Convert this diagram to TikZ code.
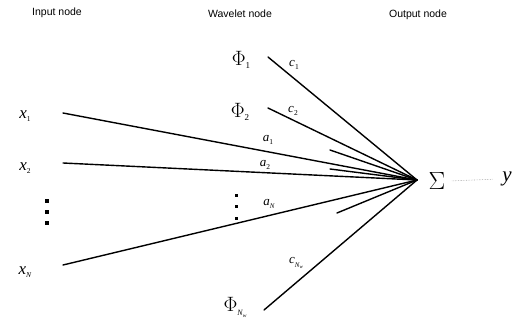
\documentclass[tikz,border=0pt]{standalone}
\usepackage{fontspec}
\setmainfont{Liberation Serif}
\newfontfamily\hdrfont{Liberation Sans}
\newcommand{\vlab}[3]{{\fontsize{#3}{#3}\selectfont\itshape #1}\raisebox{-0.35em}{\fontsize{7.5}{7.5}\selectfont #2}}
\begin{document}
\begin{tikzpicture}[x={(1pt,0)},y={(0,-1pt)},
  hdr/.style={font=\hdrfont\fontsize{10.5}{10.5}\selectfont},
  conn/.style={line width=1.4pt,line cap=round},
  faint/.style={densely dotted,gray!70,line width=0.6pt},
  dotmark/.style={fill=black,minimum size=3.2pt,inner sep=0pt,rectangle}]
\useasboundingbox (0,0) rectangle (522,321);
% headers
\node[hdr] (hin) at (57,13) {Input node};
\node[hdr] (hwav) at (240,14) {Wavelet node};
\node[hdr] (hout) at (418,15) {Output node};
% input labels
\node (x1) at (25,116) {\vlab{x}{1}{17}};
\node (x2) at (25,168) {\vlab{x}{2}{17}};
\node (xN) at (25,272) {\vlab{x}{\textit{N}}{17}};
\node[dotmark] (d1) at (47,201) {};
\node[dotmark] (d2) at (47,212) {};
\node[dotmark] (d3) at (47,223) {};
% wavelet labels
\node (p1) at (241,60) {{\fontsize{20}{20}\selectfont $\Phi$}\raisebox{-0.35em}{\fontsize{9}{9}\selectfont 1}};
\node (p2) at (240,112) {{\fontsize{20}{20}\selectfont $\Phi$}\raisebox{-0.35em}{\fontsize{9}{9}\selectfont 2}};
\node (pN) at (235,307) {{\fontsize{20}{20}\selectfont $\Phi$}\raisebox{-0.45em}{\fontsize{8}{8}\selectfont\itshape N\raisebox{-0.2em}{\fontsize{5.5}{5.5}\selectfont w}}};
\node[dotmark,minimum size=3pt] (e1) at (236,195) {};
\node[dotmark,minimum size=3pt] (e2) at (236,206) {};
\node[dotmark,minimum size=3pt] (e3) at (236,218) {};
% weight labels
\node (c1) at (294,65) {\vlab{c}{1}{13}};
\node (c2) at (293,111) {\vlab{c}{2}{13}};
\node (cN) at (296,263) {{\fontsize{13}{13}\selectfont\itshape c}\raisebox{-0.35em}{\fontsize{7}{7}\selectfont\itshape N\raisebox{-0.2em}{\fontsize{5}{5}\selectfont w}}};
\node (a1) at (268,140) {\vlab{a}{1}{13}};
\node (a2) at (265,165) {\vlab{a}{2}{13}};
\node (aN) at (269,204) {{\fontsize{13}{13}\selectfont\itshape a}\raisebox{-0.35em}{\fontsize{7}{7}\selectfont\itshape N}};
% output
\node (sum) at (437,181) {\fontsize{31}{31}\selectfont $\Sigma$};
\node (y) at (507,179) {\fontsize{21}{21}\selectfont\itshape y};
% connector start points
\coordinate (hub) at (417,180);
\coordinate (sx1) at (63,113);
\coordinate (sx2) at (63,163);
\coordinate (sxN) at (63,265);
\coordinate (sp1) at (268,57);
\coordinate (sp2) at (268,108);
\coordinate (spN) at (264,310);
\coordinate (s1) at (330,150);
\coordinate (s2) at (330,169);
\coordinate (s3) at (337,213);
\draw[conn] (sp1) -- (hub);
\draw[conn] (sp2) -- (hub);
\draw[conn] (sx1) -- (hub);
\draw[conn] (s1) -- (hub);
\draw[conn] (s2) -- (hub);
\draw[conn] (sx2) -- (hub);
\draw[conn] (sxN) -- (hub);
\draw[conn] (s3) -- (hub);
\draw[conn] (spN) -- (hub);
\draw[faint,shorten <=3pt,shorten >=6pt] (sum.east) -- (y.west);
\end{tikzpicture}
\end{document}
